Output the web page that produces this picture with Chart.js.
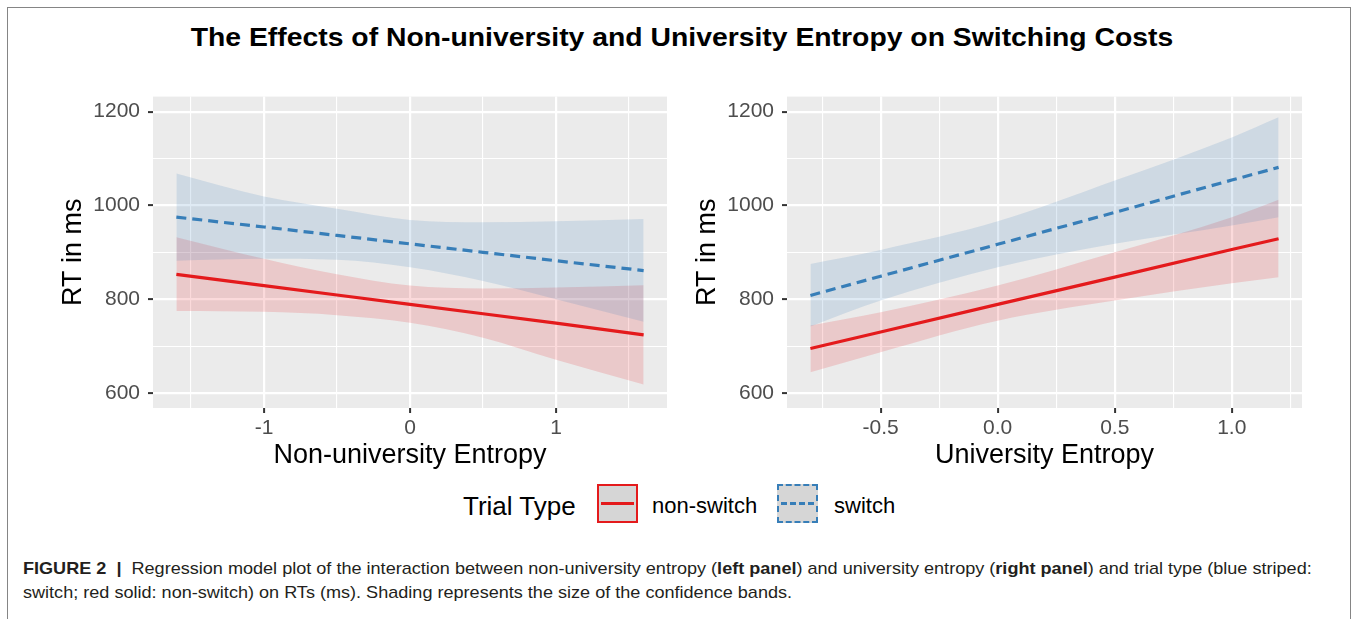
<!DOCTYPE html>
<html>
<head>
<meta charset="utf-8">
<script src="https://cdn.jsdelivr.net/npm/chart.js@4.4.0/dist/chart.umd.min.js"></script>
<style>
    body { margin: 0; width: 1356px; height: 619px; background: #fff; position: relative; overflow: hidden;
           font-family: "Liberation Sans", Arial, Helvetica, sans-serif; color: #000; }
    #frame { position: absolute; left: 7px; top: 7px; width: 1342px; height: 650px; border: 1px solid #858585; }
    #title { position: absolute; left: 0; top: 22px; width: 1364px; text-align: center; font-size: 26px;
             font-weight: bold; line-height: 30px; white-space: nowrap; transform: scaleX(1.09); }
    .panel { position: absolute; top: 76px; height: 404px; }
    #left-panel { left: 0; width: 680px; }
    #right-panel { left: 680px; width: 640px; }
    .lg-text { position: absolute; line-height: 30px; white-space: nowrap; }
    .lg-key { position: absolute; top: 484px; width: 37px; height: 35px; background: #d6d6d6; }
    .lg-key span { position: absolute; left: 2px; right: 2px; top: 16px; height: 0; }
    #caption { position: absolute; left: 23px; top: 557px; font-size: 17px; line-height: 24px; color: #231f20;
               white-space: nowrap; transform: scaleX(1.063); transform-origin: 0 0; }
</style>
</head>
<body>
<div id="frame"></div>
<div id="title">The Effects of Non-university and University Entropy on Switching Costs</div>

<div class="panel" id="left-panel"><canvas id="left-chart"></canvas></div>
<div class="panel" id="right-panel"><canvas id="right-chart"></canvas></div>

<div class="lg-text" style="left:463px; top:491px; font-size:26px;">Trial Type</div>
<div class="lg-key" style="left:597px; border:2px solid #E41A1C;"><span style="border-top:3px solid #E41A1C;"></span></div>
<div class="lg-text" style="left:652px; top:491px; font-size:22px;">non-switch</div>
<div class="lg-key" style="left:777px; border:2px dashed #377EB8;"><span style="border-top:3px dashed #377EB8;"></span></div>
<div class="lg-text" style="left:834px; top:491px; font-size:22px;">switch</div>

<div id="caption"><b>FIGURE 2 &nbsp;|&nbsp; </b>Regression model plot of the interaction between non-university entropy (<b>left panel</b>) and university entropy (<b>right panel</b>) and trial type (blue striped:<br>switch; red solid: non-switch) on RTs (ms). Shading represents the size of the confidence bands.</div>

<script>
// left panel: non-university entropy
const leftX = [-1.6, -1, -0.5, 0, 0.5, 1, 1.6];
const leftSwitchFit = [975, 954, 936, 918, 900, 882, 861];
const leftSwitchUpper = [1068, 1019, 993, 969, 964, 966, 971];
const leftSwitchLower = [882, 886, 884, 868, 839, 800, 752];
const leftNonSwitchFit = [853, 829, 809, 789, 769, 749, 724];
const leftNonSwitchUpper = [932, 886, 853, 829, 823, 825, 830];
const leftNonSwitchLower = [775, 773, 766, 750, 718, 671, 618];

// right panel: university entropy
const rightX = [-0.8, -0.5, 0, 0.5, 1.0, 1.2];
const rightSwitchFit = [808, 849, 917, 985, 1054, 1081];
const rightSwitchUpper = [875, 905, 966, 1053, 1145, 1188];
const rightSwitchLower = [742, 797, 868, 918, 957, 975];
const rightNonSwitchFit = [695, 730, 789, 847, 906, 929];
const rightNonSwitchUpper = [744, 772, 829, 900, 975, 1012];
const rightNonSwitchLower = [644, 687, 754, 797, 834, 847];

// axes
const leftXTicks = [-1.5, -1, -0.5, 0, 0.5, 1, 1.5];
const leftXLabels = {'-1': '-1', '0': '0', '1': '1'};
const rightXTicks = [-0.75, -0.5, -0.25, 0, 0.25, 0.5, 0.75, 1, 1.25];
const rightXLabels = {'-0.5': '-0.5', '0': '0.0', '0.5': '0.5', '1': '1.0'};
const yTicks = [600, 700, 800, 900, 1000, 1100, 1200];
const yLabels = {'600': '600', '800': '800', '1000': '1000', '1200': '1200'};

const RED = '#E41A1C';
const BLUE = '#377EB8';

const panelBg = {
    id: 'panelBg',
    beforeDraw(chart) {
        const {ctx, chartArea: a} = chart;
        ctx.save();
        ctx.fillStyle = '#EBEBEB';
        ctx.fillRect(a.left, a.top, a.right - a.left, a.bottom - a.top);
        ctx.restore();
    }
};

function pts(xs, ys) {
    return xs.map((x, i) => ({x: x, y: ys[i]}));
}

function axis(ticks, labels, min, max, tickPad, extra) {
    const isMajor = (v) => labels[String(v)] !== undefined;
    return Object.assign({
        type: 'linear',
        min: min,
        max: max,
        afterBuildTicks: (scale) => { scale.ticks = ticks.map(v => ({value: v})); },
        border: {display: false},
        grid: {
            color: '#ffffff',
            lineWidth: (ctx) => ctx.tick && isMajor(ctx.tick.value) ? 2.2 : 1.1,
            tickColor: (ctx) => ctx.tick && isMajor(ctx.tick.value) ? '#333333' : 'rgba(0,0,0,0)',
            tickWidth: 2,
            tickLength: 5,
        },
        ticks: {
            autoSkip: false,
            maxRotation: 0,
            padding: tickPad,
            color: '#4D4D4D',
            font: {family: '"Liberation Sans", Arial, sans-serif', size: 21},
            callback: (value) => labels[String(value)] || '',
        },
    }, extra);
}

function datasets(xs, sFit, sUp, sLo, nFit, nUp, nLo) {
    return [
        {label: 'switch', data: pts(xs, sFit), borderColor: BLUE, borderWidth: 3.2, borderDash: [10, 6], pointRadius: 0, fill: false},
        {label: 'non-switch', data: pts(xs, nFit), borderColor: RED, borderWidth: 3.2, pointRadius: 0, fill: false},
        {data: pts(xs, sUp), borderWidth: 0, pointRadius: 0, fill: '+1', backgroundColor: 'rgba(55,126,184,0.16)', cubicInterpolationMode: 'monotone'},
        {data: pts(xs, sLo), borderWidth: 0, pointRadius: 0, fill: false, cubicInterpolationMode: 'monotone'},
        {data: pts(xs, nUp), borderWidth: 0, pointRadius: 0, fill: '+1', backgroundColor: 'rgba(228,26,28,0.16)', cubicInterpolationMode: 'monotone'},
        {data: pts(xs, nLo), borderWidth: 0, pointRadius: 0, fill: false, cubicInterpolationMode: 'monotone'},
    ];
}

function panelOptions(xAxis, yWidth, yTitlePad, padRight) {
    return {
        responsive: true,
        maintainAspectRatio: false,
        animation: false,
        events: [],
        layout: {padding: {top: 0, right: padRight, left: 0, bottom: 0}},
        plugins: {legend: {display: false}, tooltip: {enabled: false}},
        scales: {
            x: xAxis,
            y: axis(yTicks, yLabels, 568, 1232, 8, {
                afterFit: (scale) => { scale.width = yWidth; },
                title: {display: true, text: 'RT in ms', color: '#000',
                        font: {family: '"Liberation Sans", Arial, sans-serif', size: 27},
                        padding: {top: yTitlePad, bottom: 0}},
            }),
        }
    };
}

const xTitleFont = {family: '"Liberation Sans", Arial, sans-serif', size: 27};

let leftChart = new Chart(document.getElementById('left-chart'), {
    type: 'line',
    data: {datasets: datasets(leftX, leftSwitchFit, leftSwitchUpper, leftSwitchLower,
                              leftNonSwitchFit, leftNonSwitchUpper, leftNonSwitchLower)},
    options: panelOptions(axis(leftXTicks, leftXLabels, -1.76, 1.76, 3, {
        afterFit: (scale) => { scale.height = 72; },
        title: {display: true, text: 'Non-university Entropy', color: '#000', font: xTitleFont, padding: {top: 0, bottom: 8}},
    }), 153, 57, 13),
    plugins: [panelBg]
});

let rightChart = new Chart(document.getElementById('right-chart'), {
    type: 'line',
    data: {datasets: datasets(rightX, rightSwitchFit, rightSwitchUpper, rightSwitchLower,
                              rightNonSwitchFit, rightNonSwitchUpper, rightNonSwitchLower)},
    options: panelOptions(axis(rightXTicks, rightXLabels, -0.9, 1.3, 3, {
        afterFit: (scale) => { scale.height = 72; },
        title: {display: true, text: 'University Entropy', color: '#000', font: xTitleFont, padding: {top: 0, bottom: 8}},
    }), 107, 11, 18),
    plugins: [panelBg]
});
</script>
</body>
</html>
